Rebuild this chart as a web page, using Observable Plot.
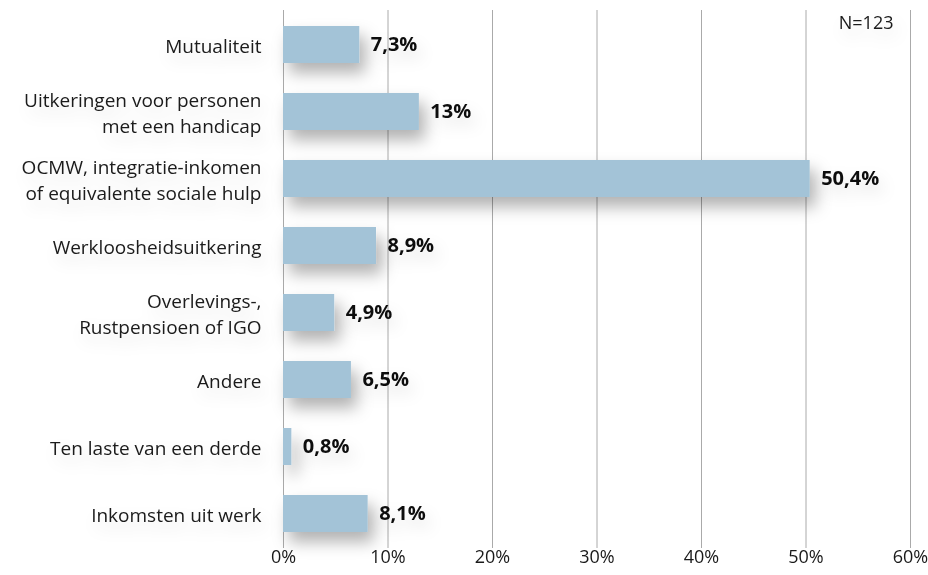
<!DOCTYPE html>
<html>
<head>
<meta charset="utf-8">
<script src="https://cdn.jsdelivr.net/npm/d3@7"></script>
<script src="https://cdn.jsdelivr.net/npm/@observablehq/plot@0.6"></script>
<style>
  html, body { margin: 0; padding: 0; background: #fff; }
  #chart { width: 928px; height: 575px; }
</style>
</head>
<body>
<div id="chart"></div>
<script>
const categories = [
  "Mutualiteit",
  "Uitkeringen voor personen\nmet een handicap",
  "OCMW, integratie-inkomen\nof equivalente sociale hulp",
  "Werkloosheidsuitkering",
  "Overlevings-,\nRustpensioen of IGO",
  "Andere",
  "Ten laste van een derde",
  "Inkomsten uit werk"
];
const values = [7.3, 13, 50.4, 8.9, 4.9, 6.5, 0.8, 8.1];
const valueLabels = ["7,3%", "13%", "50,4%", "8,9%", "4,9%", "6,5%", "0,8%", "8,1%"];
const xTicks = [0, 10, 20, 30, 40, 50, 60];
const note = "N=123";

const data = categories.map((c, i) => ({category: c, value: values[i], label: valueLabels[i]}));
const font = "'Open Sans', Lato, sans-serif";

const chart = Plot.plot({
  width: 928,
  height: 575,
  marginTop: 10,
  marginBottom: 27,
  marginLeft: 283,
  marginRight: 18,
  style: {fontFamily: font, fontSize: "19px", color: "#1a1a1a", background: "#fff"},
  x: {domain: [0, 60], ticks: xTicks, tickFormat: d => d + "%", tickSize: 0, tickPadding: 2, label: null},
  y: {domain: categories, paddingInner: 0.45, paddingOuter: 0.225, tickSize: 0, tickPadding: 22, label: null},
  marks: [
    Plot.ruleX(xTicks, {stroke: "#aaa", strokeWidth: 1}),
    Plot.barX(data, {y: "category", x: "value", fill: "#a3c3d7"}),
    Plot.text(data, {y: "category", x: "value", text: "label", dx: 11, textAnchor: "start", fontWeight: "bold", fontSize: 20, fill: "#111"}),
    Plot.text([note], {frameAnchor: "top-right", text: d => d, dx: -17, dy: 6, fontSize: 18, fill: "#1a1a1a"}),
    Plot.axisY({tickSize: 0, tickPadding: 22, fontSize: 19, lineHeight: 1.34, textAnchor: "end"}),
    Plot.axisX({ticks: xTicks, tickFormat: d => d + "%", tickSize: 0, tickPadding: 2, fontSize: 18})
  ]
});

// soft drop shadow as in the reference
const svg = d3.select(chart);
const defs = svg.insert("defs", ":first-child");
const f = defs.append("filter").attr("id", "shadow").attr("x", "-20%").attr("y", "-50%").attr("width", "160%").attr("height", "300%");
f.append("feDropShadow").attr("dx", 6).attr("dy", 10).attr("stdDeviation", 8).attr("flood-color", "#000").attr("flood-opacity", 0.3);
const f2 = defs.append("filter").attr("id", "tshadow").attr("x", "-20%").attr("y", "-50%").attr("width", "160%").attr("height", "300%");
f2.append("feDropShadow").attr("dx", 4).attr("dy", 8).attr("stdDeviation", 8).attr("flood-color", "#000").attr("flood-opacity", 0.12);
svg.selectAll("g[aria-label='bar']").attr("filter", "url(#shadow)");
svg.selectAll("g[aria-label='text'], g[aria-label='y-axis tick label']").attr("filter", "url(#tshadow)");

document.getElementById("chart").appendChild(chart);
</script>
</body>
</html>
